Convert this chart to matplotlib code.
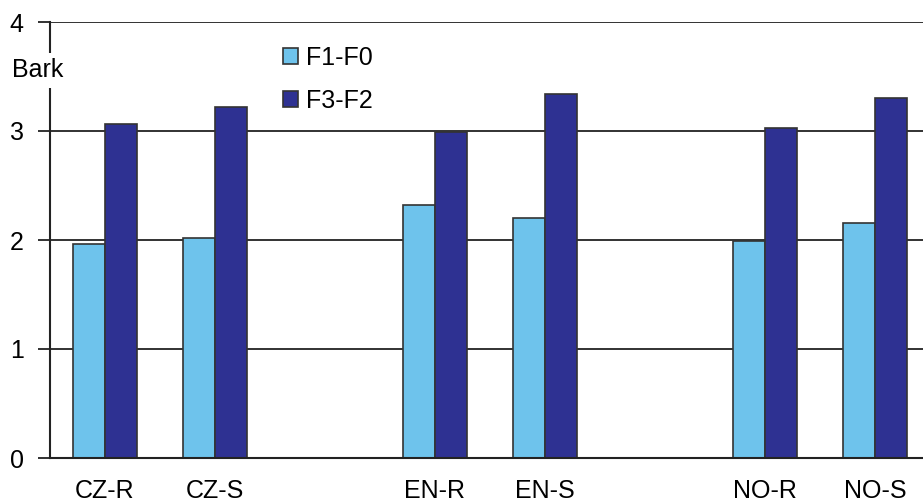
import matplotlib
matplotlib.use("Agg")
import matplotlib.pyplot as plt
import numpy as np

plt.rcParams['font.family'] = ['Liberation Sans', 'DejaVu Sans']

# categories (empty slots are the gaps between language groups)
categories = ['CZ-R', 'CZ-S', '', 'EN-R', 'EN-S', '', 'NO-R', 'NO-S']
f1_f0 = [1.96, 2.02, np.nan, 2.32, 2.20, np.nan, 1.99, 2.16]
f3_f2 = [3.06, 3.22, np.nan, 2.99, 3.34, np.nan, 3.03, 3.30]
series_names = ['F1-F0', 'F3-F2']
colors = ['#6EC3EC', '#2E3192']

W, H = 923, 504
fig = plt.figure(figsize=(W / 100, H / 100), dpi=100)
# axes runs past the right edge, like the cropped original
ax = fig.add_axes([50 / W, 46 / H, 880 / W, 436 / H])

x = np.arange(len(categories))
bw = 0.29
ax.bar(x - bw / 2, f1_f0, bw, color=colors[0], edgecolor='#333333', linewidth=1.2,
       label=series_names[0], zorder=3)
ax.bar(x + bw / 2, f3_f2, bw, color=colors[1], edgecolor='#333333', linewidth=1.2,
       label=series_names[1], zorder=3)

ax.set_xlim(-0.5, len(categories) - 0.5)
ax.set_ylim(0, 4)
ax.set_yticks([0, 1, 2, 3, 4])
ax.yaxis.grid(True, color='#222222', linewidth=1.3, zorder=0)
ax.set_axisbelow(True)
ax.set_xticks(x)
ax.set_xticklabels(categories, fontsize=18)
ax.tick_params(axis='x', length=0, pad=15)
ax.tick_params(axis='y', length=9, width=1.3, color='#222222', labelsize=18, pad=10)

for s in ['top', 'right']:
    ax.spines[s].set_visible(False)
for s in ['left', 'bottom']:
    ax.spines[s].set_color('#222222')
    ax.spines[s].set_linewidth(1.5)
    ax.spines[s].set_zorder(4)

fig.text(12 / W, 1 - 70 / H, 'Bark', fontsize=18, va='center', ha='left',
         bbox=dict(facecolor='white', edgecolor='none', pad=4), zorder=10)

leg = ax.legend(loc='upper left', bbox_to_anchor=((283 - 50) / 880, (458 - 46) / 436),
                frameon=False, fontsize=18, handlelength=0.6, handleheight=0.6,
                handletextpad=0.3, labelspacing=0.75, borderaxespad=0, borderpad=0)
for h in leg.legend_handles:
    h.set_linewidth(1.2)

fig.savefig('out.png', dpi=100)
